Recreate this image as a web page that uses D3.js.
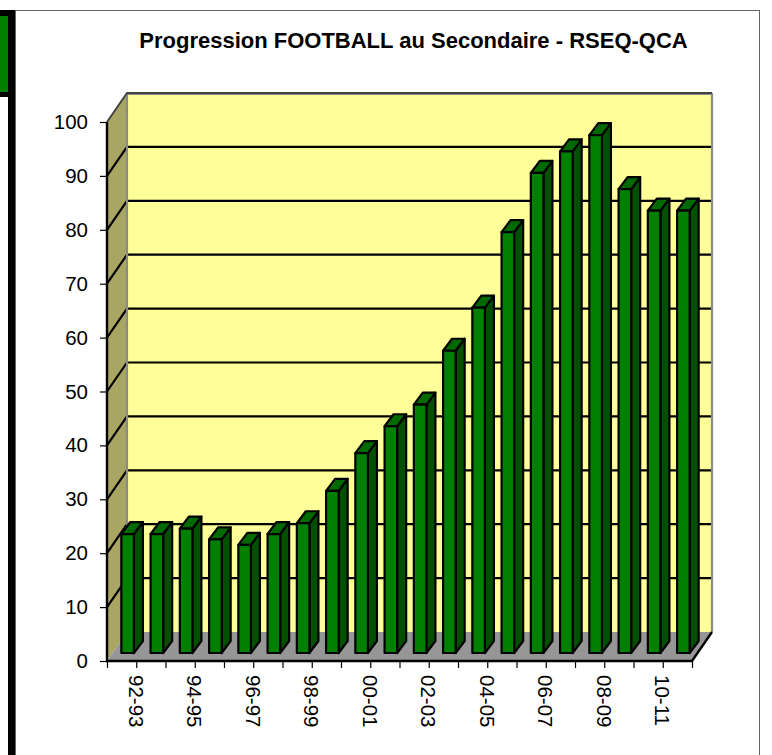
<!DOCTYPE html>
<html>
<head>
<meta charset="utf-8">
<script src="https://cdn.jsdelivr.net/npm/d3@7"></script>
<style>
  html, body { margin: 0; padding: 0; background: #fff; }
  svg { display: block; }
  text { font-family: "Liberation Sans", Arial, sans-serif; fill: #000; }
  .axis text { font-size: 20.5px; }
  .axis .domain { display: none; }
  .axis line { stroke: #000; stroke-width: 1.2; }
</style>
</head>
<body>
<div id="chart"></div>
<script>
var title = "Progression FOOTBALL au Secondaire - RSEQ-QCA";
var seasons = ["92-93","93-94","94-95","95-96","96-97","97-98","98-99","99-00","00-01","01-02",
               "02-03","03-04","04-05","05-06","06-07","07-08","08-09","09-10","10-11","11-12"];
var teams = [23,23,24,22,21,23,25,31,38,43,47,57,65,79,90,94,97,87,83,83];
var yTicks = [0,10,20,30,40,50,60,70,80,90,100];

var width = 772, height = 755;
var margin = {top: 122, right: 80, bottom: 94, left: 107};
var chartWidth = width - margin.left - margin.right;
var chartHeight = height - margin.top - margin.bottom;

// how far the back wall sits from the front plane
var depthX = 20, depthY = 29;

var svg = d3.select("#chart").append("svg")
    .attr("width", width)
    .attr("height", height);

// page scraps left of the chart frame
svg.append("rect").attr("x", 0).attr("y", 10).attr("width", 15).attr("height", 87).attr("fill", "#000");
svg.append("rect").attr("x", 8).attr("y", 10).attr("width", 7).attr("height", height).attr("fill", "#000");
svg.append("rect").attr("x", 0).attr("y", 16).attr("width", 8).attr("height", 76).attr("fill", "#008000");

svg.append("rect")
    .attr("x", 15.5).attr("y", 10.5)
    .attr("width", 744).attr("height", height)
    .attr("fill", "#fff")
    .attr("stroke", "#666");

svg.append("text")
    .attr("x", 413.5).attr("y", 48)
    .attr("text-anchor", "middle")
    .style("font-size", "22px")
    .style("font-weight", "bold")
    .text(title);

var g = svg.append("g")
    .attr("transform", `translate(${margin.left}, ${margin.top})`);

var yScale = d3.scaleLinear().domain([0,100]).range([chartHeight, 0]);
var xScale = d3.scaleBand().domain(seasons).range([0, chartWidth]).paddingInner(0.57).paddingOuter(0.285);
var edgeScale = d3.scaleLinear().domain([0, seasons.length]).range([0, chartWidth]);

var line = d3.line();

// walls
g.append("path")
    .attr("d", line([[0,yScale(100)],[depthX,yScale(100)-depthY],[depthX,yScale(0)-depthY],[0,yScale(0)]]) + "Z")
    .attr("fill", "#a9a563");
g.append("rect")
    .attr("x", depthX).attr("y", yScale(100)-depthY)
    .attr("width", chartWidth).attr("height", chartHeight)
    .attr("fill", "#ffff99");

// gridlines wrap from the side wall on to the back wall
var gridTicks = yTicks.filter(d => d > 0 && d < 100);
g.selectAll(".grid")
    .data(gridTicks)
    .enter().append("path")
    .attr("class", "grid")
    .attr("fill", "none")
    .attr("stroke", "#000")
    .attr("stroke-width", 2.2)
    .attr("d", d => line([[0,yScale(d)],[depthX,yScale(d)-depthY],[depthX+chartWidth,yScale(d)-depthY]]));

// wall edges
g.append("path")
    .attr("d", line([[depthX,yScale(0)-depthY],[depthX,yScale(100)-depthY+1],[depthX+chartWidth,yScale(100)-depthY+1],[depthX+chartWidth,yScale(0)-depthY]]))
    .attr("fill", "none").attr("stroke", "#8a8a8a").attr("stroke-width", 2.2);
g.append("path")
    .attr("d", line([[0,yScale(100)],[depthX,yScale(100)-depthY],[depthX+chartWidth,yScale(100)-depthY]]))
    .attr("fill", "none").attr("stroke", "#444").attr("stroke-width", 2);

// floor
g.append("path")
    .attr("d", line([[0,yScale(0)],[depthX,yScale(0)-depthY],[depthX+chartWidth,yScale(0)-depthY],[chartWidth,yScale(0)]]) + "Z")
    .attr("fill", "#969696");
g.append("path")
    .attr("d", line([[0,yScale(100)],[0,yScale(0)],[chartWidth,yScale(0)],[depthX+chartWidth,yScale(0)-depthY]]))
    .attr("fill", "none").attr("stroke", "#000").attr("stroke-width", 2.4);

// bars stand 8px in from the front edge of the floor
var frontX = 6, floorY = yScale(0) - 8, lift = 3;
var sideX = 9, sideY = 12;
var barWidth = xScale.bandwidth();
var barTop = d => yScale(d) - lift;

var bars = g.selectAll(".bar")
    .data(seasons.map((s, i) => ({season: s, value: teams[i]})))
    .enter().append("g")
    .attr("class", "bar")
    .attr("transform", d => `translate(${xScale(d.season) + frontX}, 0)`)
    .attr("stroke", "#000")
    .attr("stroke-width", 2.2)
    .attr("stroke-linejoin", "round");

// right side
bars.append("path")
    .attr("fill", "#005000")
    .attr("d", d => line([[barWidth,barTop(d.value)],[barWidth+sideX,barTop(d.value)-sideY],[barWidth+sideX,floorY-sideY],[barWidth,floorY]]) + "Z");
// top
bars.append("path")
    .attr("fill", "#006a00")
    .attr("d", d => line([[0,barTop(d.value)],[sideX,barTop(d.value)-sideY],[barWidth+sideX,barTop(d.value)-sideY],[barWidth,barTop(d.value)]]) + "Z");
// front
bars.append("rect")
    .attr("fill", "#008000")
    .attr("x", 0)
    .attr("y", d => barTop(d.value))
    .attr("width", barWidth)
    .attr("height", d => floorY - barTop(d.value));

// axes
var yAxis = d3.axisLeft(yScale)
    .tickValues(yTicks)
    .tickSize(7)
    .tickPadding(12);

g.append("g")
    .attr("class", "y axis")
    .call(yAxis);

var xAxis = d3.axisBottom(edgeScale)
    .tickValues(d3.range(seasons.length + 1))
    .tickSize(7)
    .tickFormat(i => (i % 2 == 1) ? seasons[i - 1] : "");

g.append("g")
    .attr("class", "x axis")
    .attr("transform", `translate(0,${chartHeight})`)
    .call(xAxis)
    .selectAll("text")
        .style("text-anchor", "start")
        .attr("dx", 0)
        .attr("dy", 0)
        .attr("y", 0)
        .attr("transform", "translate(-8,14) rotate(90)");
</script>
</body>
</html>
